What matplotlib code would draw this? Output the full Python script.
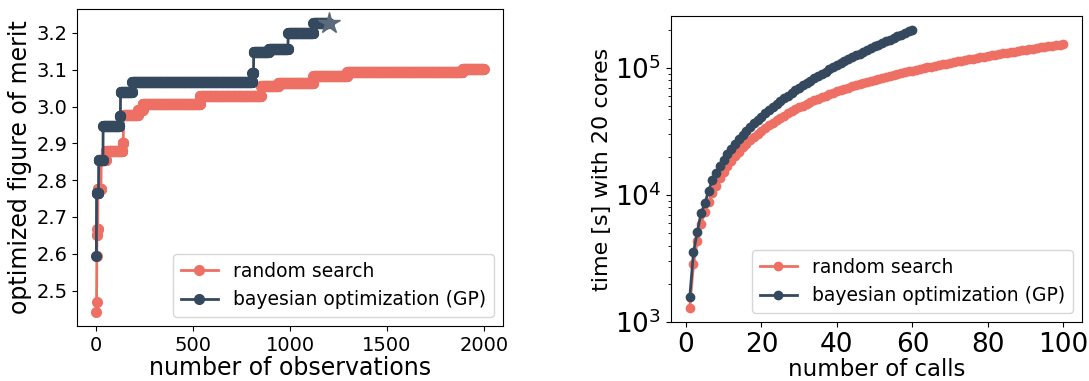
import numpy as np
import matplotlib
matplotlib.use('Agg')
import matplotlib.pyplot as plt

RED = '#ee7064'
DARK = '#34495e'

# left panel: best value so far, given as (first observation, level) steps
rs_step_start = [0, 1, 2, 3, 5, 8, 25, 50, 135, 140, 215, 240, 535, 850, 940, 1120, 1295, 1890]
rs_step_value = [2.443, 2.47, 2.593, 2.65, 2.668, 2.776, 2.855, 2.879, 2.902, 2.978, 2.99,
                 3.008, 3.03, 3.055, 3.064, 3.084, 3.093, 3.102]
rs_n_obs = 2000

gp_step_start = [0, 1, 12, 35, 120, 125, 185, 805, 812, 890, 990, 1120]
gp_step_value = [2.593, 2.766, 2.854, 2.947, 2.975, 3.04, 3.068, 3.091, 3.147, 3.157, 3.199, 3.226]
gp_n_obs = 1200
gp_best = (1200, 3.226)

merit_ticks = [2.5, 2.6, 2.7, 2.8, 2.9, 3.0, 3.1, 3.2]

# right panel: cumulative wall time per call
rs_time = [1300, 2850, 4350, 5900, 7400, 8850, 10400, 11800, 13500, 15200,
           16900, 18600, 20300, 22000, 23700, 25400, 27100, 28800, 30500, 32200,
           33900, 35550, 37200, 38900, 40550, 42200, 43900, 45550, 47200, 48900,
           50550, 52200, 53900, 55550, 57200, 58900, 60550, 62200, 63900, 65600,
           67100, 68600, 70100, 71600, 73100, 74600, 76100, 77600, 79100, 80600,
           82100, 83600, 85100, 86600, 88100, 89600, 91100, 92600, 94100, 95600,
           97000, 98450, 99900, 101300, 102750, 104200, 105600, 107050, 108500, 109900,
           111350, 112800, 114200, 115650, 117100, 118500, 119950, 121400, 122800, 124300,
           125800, 127300, 128800, 130300, 131800, 133300, 134800, 136300, 137800, 139300,
           140800, 142300, 143900, 145400, 146900, 148400, 150000, 151500, 153000, 154500]
gp_time = [1560, 3540, 5140, 7180, 8590, 10800, 13100, 15000, 17000, 19000,
           21100, 23200, 25400, 27600, 29800, 32000, 34300, 36700, 39100, 41500,
           44000, 46570, 49220, 51930, 54720, 57580, 60510, 63520, 66590, 69740,
           72960, 76250, 79620, 83050, 86560, 90140, 93790, 97520, 101300, 105180,
           109120, 113130, 117220, 121370, 125600, 129900, 134300, 138790, 143370, 148040,
           152800, 157650, 162590, 167620, 172740, 177950, 183250, 188640, 194120, 199690]


def expand_steps(starts, values, n):
    # best-so-far value at every observation
    out = np.empty(n)
    bounds = list(starts) + [n]
    for i in range(len(values)):
        out[bounds[i]:bounds[i + 1]] = values[i]
    return out


fig = plt.figure(figsize=(10.89, 3.81), dpi=100)

ax1 = fig.add_axes([0.0707, 0.1444, 0.3912, 0.832])
rs_best = expand_steps(rs_step_start, rs_step_value, rs_n_obs)
gp_best_curve = expand_steps(gp_step_start, gp_step_value, gp_n_obs)
ax1.plot(np.arange(rs_n_obs), rs_best, '-o', color=RED, ms=7, lw=2, label='random search')
ax1.plot(np.arange(gp_n_obs), gp_best_curve, '-o', color=DARK, ms=7, lw=2,
         label='bayesian optimization (GP)')
ax1.plot([gp_best[0]], [gp_best[1]], '*', color='#5b6b7c', ms=16)
ax1.set_xlabel('number of observations', fontsize=17, labelpad=1)
ax1.set_ylabel('optimized figure of merit', fontsize=17, labelpad=3)
ax1.set_xticks([0, 500, 1000, 1500, 2000])
ax1.set_yticks(merit_ticks)
ax1.tick_params(labelsize=14)
ax1.legend(loc='lower right', fontsize=13.5)

ax2 = fig.add_axes([0.6162, 0.1549, 0.3774, 0.8031])
ax2.plot(np.arange(1, len(rs_time) + 1), rs_time, '-o', color=RED, ms=6, lw=2,
         label='random search')
ax2.plot(np.arange(1, len(gp_time) + 1), gp_time, '-o', color=DARK, ms=6, lw=2,
         label='bayesian optimization (GP)')
ax2.set_yscale('log')
ax2.set_ylim(1000, 2.57e5)
ax2.set_xticks([0, 20, 40, 60, 80, 100])
ax2.set_xlabel('number of calls', fontsize=16.5, labelpad=0)
ax2.set_ylabel('time [s] with 20 cores', fontsize=16, labelpad=2)
ax2.tick_params(which='major', labelsize=19)
ax2.legend(loc='lower right', fontsize=13.5)

fig.savefig('out.png', dpi=100)
